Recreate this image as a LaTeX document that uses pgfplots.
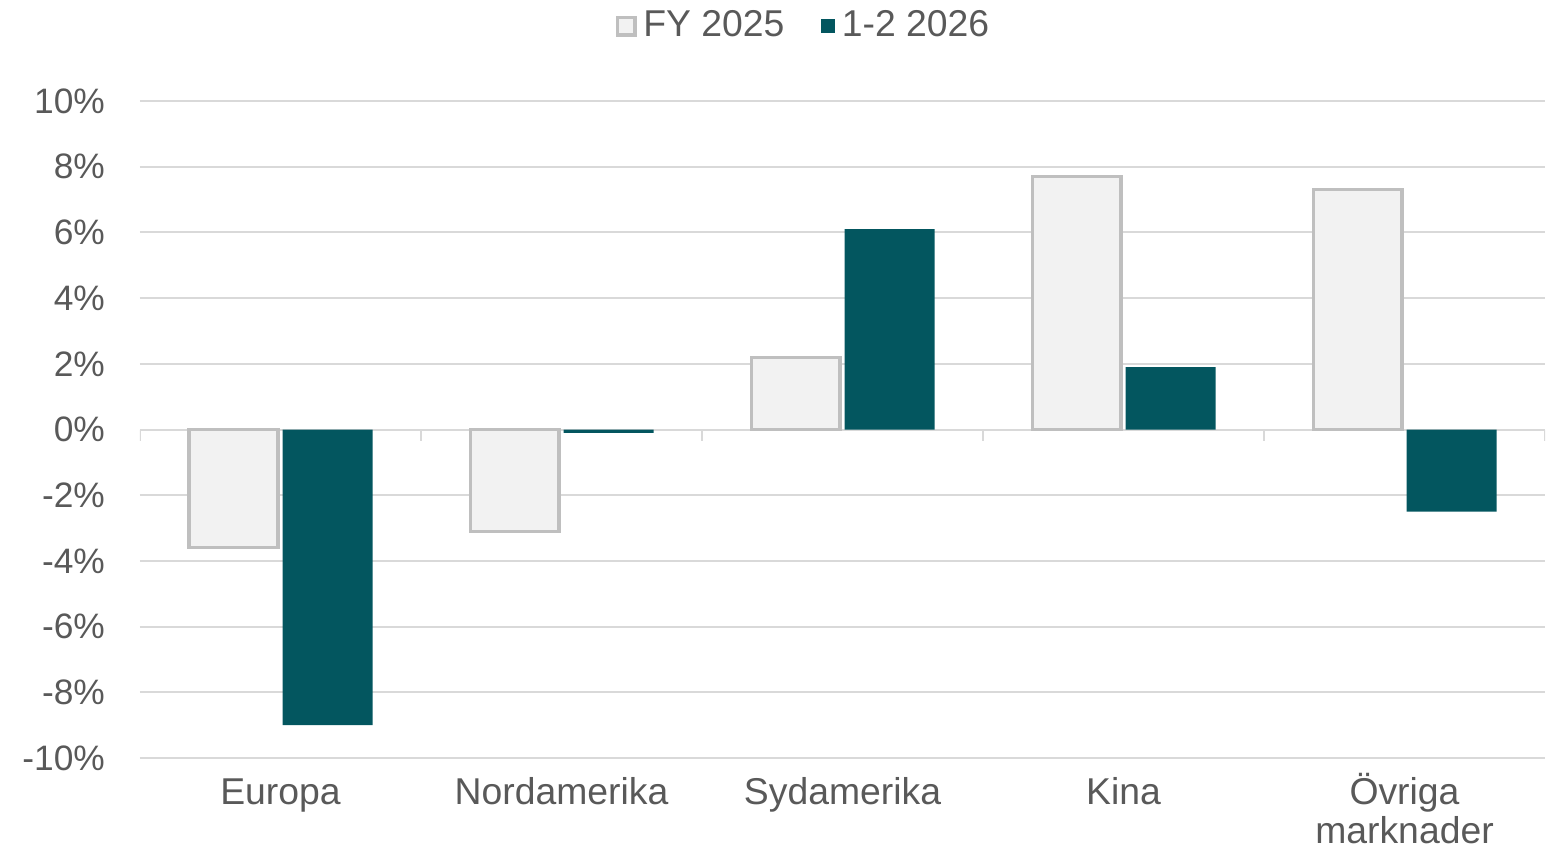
\documentclass[border=0pt]{standalone}
\usepackage{fontspec}
\setmainfont{Liberation Sans}
\usepackage{pgfplots}
\pgfplotsset{compat=1.18}
\definecolor{txt}{HTML}{595959}
\definecolor{gridc}{HTML}{D9D9D9}
\definecolor{fyfill}{HTML}{F2F2F2}
\definecolor{fyline}{HTML}{BFBFBF}
\definecolor{teal26}{HTML}{03565F}

\begin{document}
\begin{tikzpicture}
\begin{axis}[
    name=ax,
    scale only axis, width=421.5pt, height=197.1pt,
    xmin=-0.5, xmax=4.5, ymin=-10, ymax=10,
    axis line style={draw=none},
    tick style={draw=none},
    xtick={0,...,4},
    xticklabels={\vphantom{Ö}Europa,\vphantom{Ö}Nordamerika,\vphantom{Ö}Sydamerika,\vphantom{Ö}Kina,{Övriga\\marknader}},
    xticklabel style={align=center, font=\fontsize{11.2}{11.8}\selectfont, text=txt, yshift=-1pt},
    ytick={-10,-8,...,10},
    yticklabels={-10\%,-8\%,-6\%,-4\%,-2\%,0\%,2\%,4\%,6\%,8\%,10\%},
    yticklabel style={font=\fontsize{10.6}{12}\selectfont, text=txt, xshift=-7pt},
    ymajorgrids, grid style={gridc, line width=0.6pt},
    legend columns=2,
    legend style={at={(0.474,1)}, anchor=center, yshift=22.4pt, draw=none, fill=none,
        font=\fontsize{11.2}{12}\selectfont, text=txt,
        /tikz/every even column/.append style={column sep=9pt}},
]
\addplot[ybar, bar width=26.6pt, bar shift=-14.1pt, fill=fyfill, draw=fyline, line width=1pt,
    legend image code/.code={\draw[fill=fyfill, draw=fyline, line width=1pt] (0pt,-2.6pt) rectangle (5.2pt,2.6pt);}]
    coordinates {(0,-3.6) (1,-3.1) (2,2.2) (3,7.7) (4,7.3)};
\addplot[ybar, bar width=27pt, bar shift=14.1pt, fill=teal26, draw=none,
    legend image code/.code={\fill[teal26] (0.5pt,-2.1pt) rectangle (4.7pt,2.1pt);}]
    coordinates {(0,-9.0) (1,-0.1) (2,6.1) (3,1.9) (4,-2.5)};
\legend{FY 2025, 1-2 2026}
\pgfplotsinvokeforeach{-0.5,0.5,1.5,2.5,3.5,4.5}{
    \draw[gridc, line width=0.6pt] (axis cs:#1,0) -- ++(0pt,-3.3pt);
}
\end{axis}
\pgfresetboundingbox
\path[use as bounding box] ([xshift=-42pt,yshift=-27.6pt]ax.south west) rectangle ([xshift=3pt,yshift=30.3pt]ax.north east);
\end{tikzpicture}
\end{document}
